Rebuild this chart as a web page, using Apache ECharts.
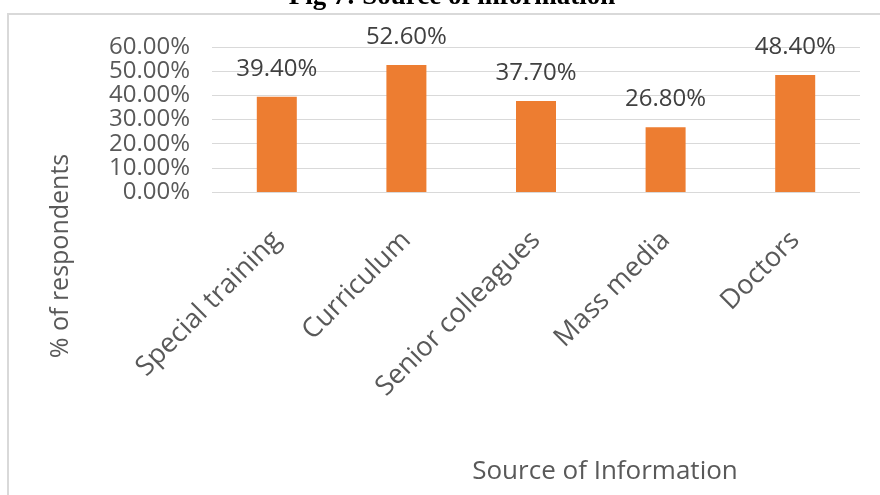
<!DOCTYPE html>
<html>
<head>
<meta charset="utf-8">
<script src="https://cdn.jsdelivr.net/npm/echarts@6/dist/echarts.min.js"></script>
<style>html,body{margin:0;padding:0;background:#fff}#c{width:880px;height:495px}</style>
</head>
<body>
<div id="c"></div>
<script>
const categories = ["Special training", "Curriculum", "Senior colleagues", "Mass media", "Doctors"];
const values = [39.4, 52.6, 37.7, 26.8, 48.4];
const yTicks = { min: 0, max: 60, interval: 10 };
const titleText = "Fig 7: Source of information";
const xName = "Source of Information";
const yName = "% of respondents";

const chart = echarts.init(document.getElementById('c'), null, { renderer: 'canvas' });
const font = "'Open Sans', sans-serif";
chart.setOption({
  animation: false,
  backgroundColor: '#fff',
  grid: { left: 212, right: 20, top: 47, bottom: 303, containLabel: false },
  xAxis: {
    type: 'category',
    data: categories,
    axisLine: { show: false },
    axisTick: { show: false },
    axisLabel: {
      rotate: 45, interval: 0, margin: 44,
      color: '#595959', fontSize: 27, fontFamily: font
    }
  },
  yAxis: {
    type: 'value',
    min: yTicks.min, max: yTicks.max, interval: yTicks.interval,
    axisLine: { show: false },
    axisTick: { show: false },
    splitLine: { lineStyle: { color: '#d9d9d9', width: 1 } },
    axisLabel: {
      margin: 22, color: '#595959', fontSize: 24, fontFamily: font,
      formatter: v => v.toFixed(2) + '%'
    }
  },
  series: [{
    type: 'bar',
    data: values,
    barWidth: 40,
    itemStyle: { color: '#ED7D31' },
    label: {
      show: true, position: 'top', distance: 16,
      color: '#404040', fontSize: 24, fontFamily: font,
      formatter: p => p.value.toFixed(2) + '%'
    }
  }],
  graphic: [
    { type: 'rect', silent: true, z: -1,
      shape: { x: 8, y: 14, width: 900, height: 500 },
      style: { fill: 'none', stroke: '#d9d9d9', lineWidth: 2 } },
    { type: 'text', silent: true,
      style: { text: titleText, x: 452, y: 11, textAlign: 'center', textVerticalAlign: 'bottom',
        font: "bold 27px 'Liberation Serif', serif", fill: '#000' } },
    { type: 'text', silent: true,
      style: { text: xName, x: 605, y: 472, textAlign: 'center', textVerticalAlign: 'middle',
        font: "26px 'Open Sans', sans-serif", fill: '#595959' } },
    { type: 'text', silent: true, x: 61, y: 256, rotation: Math.PI / 2,
      style: { text: yName, x: 0, y: 0, textAlign: 'center', textVerticalAlign: 'middle',
        font: "25px 'Open Sans', sans-serif", fill: '#595959' } }
  ]
});
</script>
</body>
</html>
